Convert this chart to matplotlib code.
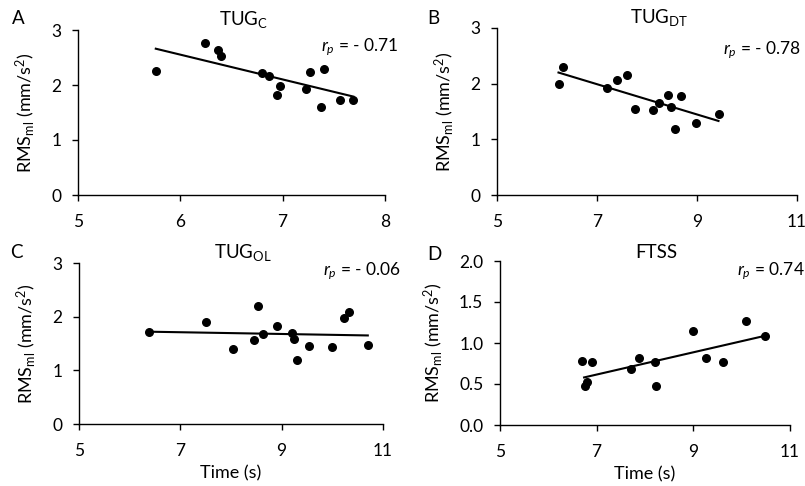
import numpy as np
import matplotlib
matplotlib.use("Agg")
import matplotlib.pyplot as plt

plt.rcParams['font.family'] = ['Lato', 'DejaVu Sans']
plt.rcParams['mathtext.fontset'] = 'custom'
plt.rcParams['mathtext.rm'] = 'Lato'
plt.rcParams['mathtext.it'] = 'Lato:italic'

# panel A - TUG_C
tugc_x = [5.76, 6.24, 6.37, 6.40, 6.80, 6.87, 6.97, 6.94, 7.23, 7.27, 7.40, 7.37, 7.56, 7.69]
tugc_y = [2.26, 2.76, 2.64, 2.53, 2.21, 2.17, 1.98, 1.81, 1.92, 2.23, 2.29, 1.60, 1.73, 1.72]
# panel B - TUG_DT
tugdt_x = [6.23, 6.31, 7.19, 7.39, 7.60, 7.75, 8.12, 8.23, 8.41, 8.47, 8.68, 8.55, 8.97, 9.43]
tugdt_y = [2.00, 2.30, 1.93, 2.06, 2.15, 1.54, 1.53, 1.66, 1.79, 1.58, 1.77, 1.18, 1.30, 1.45]
# panel C - TUG_OL
tugol_x = [6.38, 7.50, 8.03, 8.45, 8.54, 8.63, 8.90, 9.20, 9.25, 9.31, 9.54, 10.00, 10.24, 10.33, 10.70]
tugol_y = [1.72, 1.90, 1.39, 1.57, 2.20, 1.67, 1.83, 1.70, 1.58, 1.20, 1.45, 1.43, 1.98, 2.09, 1.48]
# panel D - FTSS
ftss_x = [6.70, 6.75, 6.79, 6.90, 7.70, 7.88, 8.21, 8.23, 9.00, 9.26, 9.61, 10.08, 10.48]
ftss_y = [0.78, 0.48, 0.52, 0.77, 0.68, 0.82, 0.77, 0.47, 1.15, 0.82, 0.77, 1.27, 1.08]

# trend line end points
fit_a = ([5.76, 7.69], [2.66, 1.79])
fit_b = ([6.23, 9.43], [2.20, 1.33])
fit_c = ([6.38, 10.70], [1.72, 1.65])
fit_d = ([6.74, 10.50], [0.58, 1.09])

titles = ['TUG$_\\mathrm{C}$', 'TUG$_\\mathrm{DT}$', 'TUG$_\\mathrm{OL}$', 'FTSS']
letters = ['A', 'B', 'C', 'D']
r_labels = ['$r_p$ = - 0.71', '$r_p$ = - 0.78', '$r_p$ = - 0.06', '$r_p$ = 0.74']

W, H = 805, 486
fig = plt.figure(figsize=(W / 100, H / 100), dpi=100)

# axes boxes in pixels: left, right, top, bottom
boxes = [(78, 385, 30, 195), (497, 797, 28, 195), (79, 383, 263, 424), (500, 790, 261, 425)]
axes = []
for l, r, t, b in boxes:
    axes.append(fig.add_axes([l / W, 1 - b / H, (r - l) / W, (b - t) / H]))

data = [(tugc_x, tugc_y, fit_a), (tugdt_x, tugdt_y, fit_b),
        (tugol_x, tugol_y, fit_c), (ftss_x, ftss_y, fit_d)]
for i, ax in enumerate(axes):
    x, y, fit = data[i]
    ax.scatter(x, y, s=30, color='black', zorder=3, clip_on=False)
    ax.plot(fit[0], fit[1], color='black', lw=1.5)
    for s in ['top', 'right']:
        ax.spines[s].set_visible(False)
    for s in ['left', 'bottom']:
        ax.spines[s].set_color('black')
        ax.spines[s].set_linewidth(1.0)
    ax.tick_params(labelsize=12.5, length=4, width=1.0)
    ax.tick_params(axis='x', pad=10)
    ax.tick_params(axis='y', pad=8)
    if i == 0:
        ax.set_xlim(5, 8)
        ax.set_xticks([5, 6, 7, 8])
    else:
        ax.set_xlim(5, 11)
        ax.set_xticks([5, 7, 9, 11])
    if i == 3:
        ax.set_ylim(0, 2)
        ax.set_yticks([0, 0.5, 1.0, 1.5, 2.0])
        ax.set_yticklabels(['0.0', '0.5', '1.0', '1.5', '2.0'])
    else:
        ax.set_ylim(0, 3)
        ax.set_yticks([0, 1, 2, 3])
    ax.set_ylabel('RMS$_\\mathrm{ml}$ (mm/s$^2$)', fontsize=13, labelpad=10)
    if i >= 2:
        ax.set_xlabel('Time (s)', fontsize=13, labelpad=4)
    ax.text(0.54, 1.0, titles[i], transform=ax.transAxes, ha='center', va='bottom', fontsize=13.5)

# panel letters
fig.text(12 / W, 1 - 18 / H, 'A', fontsize=13.5, va='center')
fig.text(427 / W, 1 - 18 / H, 'B', fontsize=13.5, va='center')
fig.text(10 / W, 1 - 252 / H, 'C', fontsize=13.5, va='center')
fig.text(427 / W, 1 - 254 / H, 'D', fontsize=13.5, va='center')

# correlation labels
fig.text(321 / W, 1 - 47 / H, r_labels[0], fontsize=12.5, va='center')
fig.text(723 / W, 1 - 50 / H, r_labels[1], fontsize=12.5, va='center')
fig.text(323 / W, 1 - 271 / H, r_labels[2], fontsize=12.5, va='center')
fig.text(737 / W, 1 - 271 / H, r_labels[3], fontsize=12.5, va='center')

fig.savefig('out.png', dpi=100)
